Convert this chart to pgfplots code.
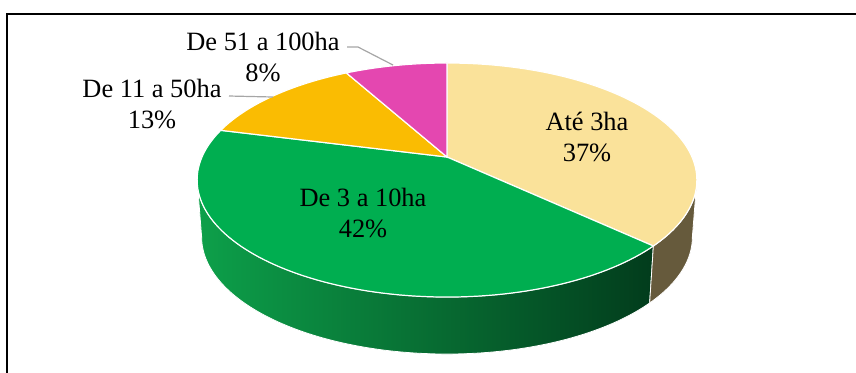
\documentclass[border=0pt]{standalone}
\usepackage{fontspec}
\setmainfont{Liberation Serif}
\usepackage{pgfplots}
\pgfplotsset{compat=1.18}
\definecolor{cA}{HTML}{FAE29A}
\definecolor{cAs}{HTML}{665A3C}
\definecolor{cB}{HTML}{00AE50}
\definecolor{cBl}{HTML}{0DA04A}
\definecolor{cBr}{HTML}{023C1C}
\definecolor{cC}{HTML}{FABC02}
\definecolor{cD}{HTML}{E447B0}
\definecolor{lead}{HTML}{A6A6A6}
% top sector: colour, from angle, to angle
\newcommand\sector[3]{%
  \addplot[fill=#1, draw=white, line width=0.6pt, variable=\s, domain=0:101, samples=102]
   ({(\s<0.5) ? 447 : px((#2)+((#3)-(#2))*(\s-1)/100)},
    {(\s<0.5) ? 157 : py((#2)+((#3)-(#2))*(\s-1)/100)}) -- cycle;}
% side band: options, from angle, to angle
\newcommand\side[3]{%
  \addplot[#1, draw=white, line width=0.4pt, variable=\s, domain=0:201, samples=202]
   ({447 + ((\s<100.5) ? 1 : 0.982)*(px((\s<100.5) ? ((#2)+((#3)-(#2))*\s/100) : ((#3)-((#3)-(#2))*(\s-101)/100))-447)},
    {py((\s<100.5) ? ((#2)+((#3)-(#2))*\s/100) : ((#3)-((#3)-(#2))*(\s-101)/100)) + ((\s<100.5) ? 0 : 57)}) -- cycle;}
\begin{document}
\begin{tikzpicture}
% shares in percent
\pgfmathsetmacro\pA{37}% Até 3ha
\pgfmathsetmacro\pB{42}% De 3 a 10ha
\pgfmathsetmacro\pC{13}% De 11 a 50ha
\pgfmathsetmacro\pD{8}%  De 51 a 100ha
\pgfmathsetmacro\aO{90}
\pgfmathsetmacro\aA{\aO-3.6*\pA}
\pgfmathsetmacro\aB{\aA-3.6*\pB}
\pgfmathsetmacro\aC{\aB-3.6*\pC}
\pgfmathsetmacro\aD{\aC-3.6*\pD}
\begin{axis}[width=428pt, height=186pt, scale only axis,
  xmin=0, xmax=856, ymin=0, ymax=372, y dir=reverse,
  hide axis, clip=false,
  declare function={
    px(\u)=447+245*cos(\u)/(1+0.1966*sin(\u));
    py(\u)=157-112.5*sin(\u)/(1+0.1966*sin(\u));
  }]
% sides
\side{left color=cBl, right color=cBr}{-168.66}{\aA}
\side{fill=cAs}{\aA}{-11.34}
% top faces
\sector{cA}{\aO}{\aA}
\sector{cB}{\aA}{\aB}
\sector{cC}{\aB}{\aC}
\sector{cD}{\aC}{\aD}
% leader lines
\addplot[lead, line width=0.6pt] coordinates {(347,47) (358,47) (393,65)};
\addplot[lead, line width=0.6pt] coordinates {(229,96) (273,97)};
% labels
\tikzset{lbl/.style={align=center, inner sep=0pt, font=\fontsize{13.2}{15.2}\selectfont}}
\node[lbl] at (axis cs:587,137) {Até 3ha\\37\%};
\node[lbl] at (axis cs:363,213) {De 3 a 10ha\\42\%};
\node[lbl] at (axis cs:152,104) {De 11 a 50ha\\13\%};
\node[lbl] at (axis cs:263,57) {De 51 a 100ha\\8\%};
% frame
\draw[black, line width=0.8pt] (axis cs:7,380) -- (axis cs:7,14) -- (axis cs:870,14);
\end{axis}
\pgfresetboundingbox
\path[use as bounding box] (current axis.south west) rectangle (current axis.north east);
\end{tikzpicture}
\end{document}
